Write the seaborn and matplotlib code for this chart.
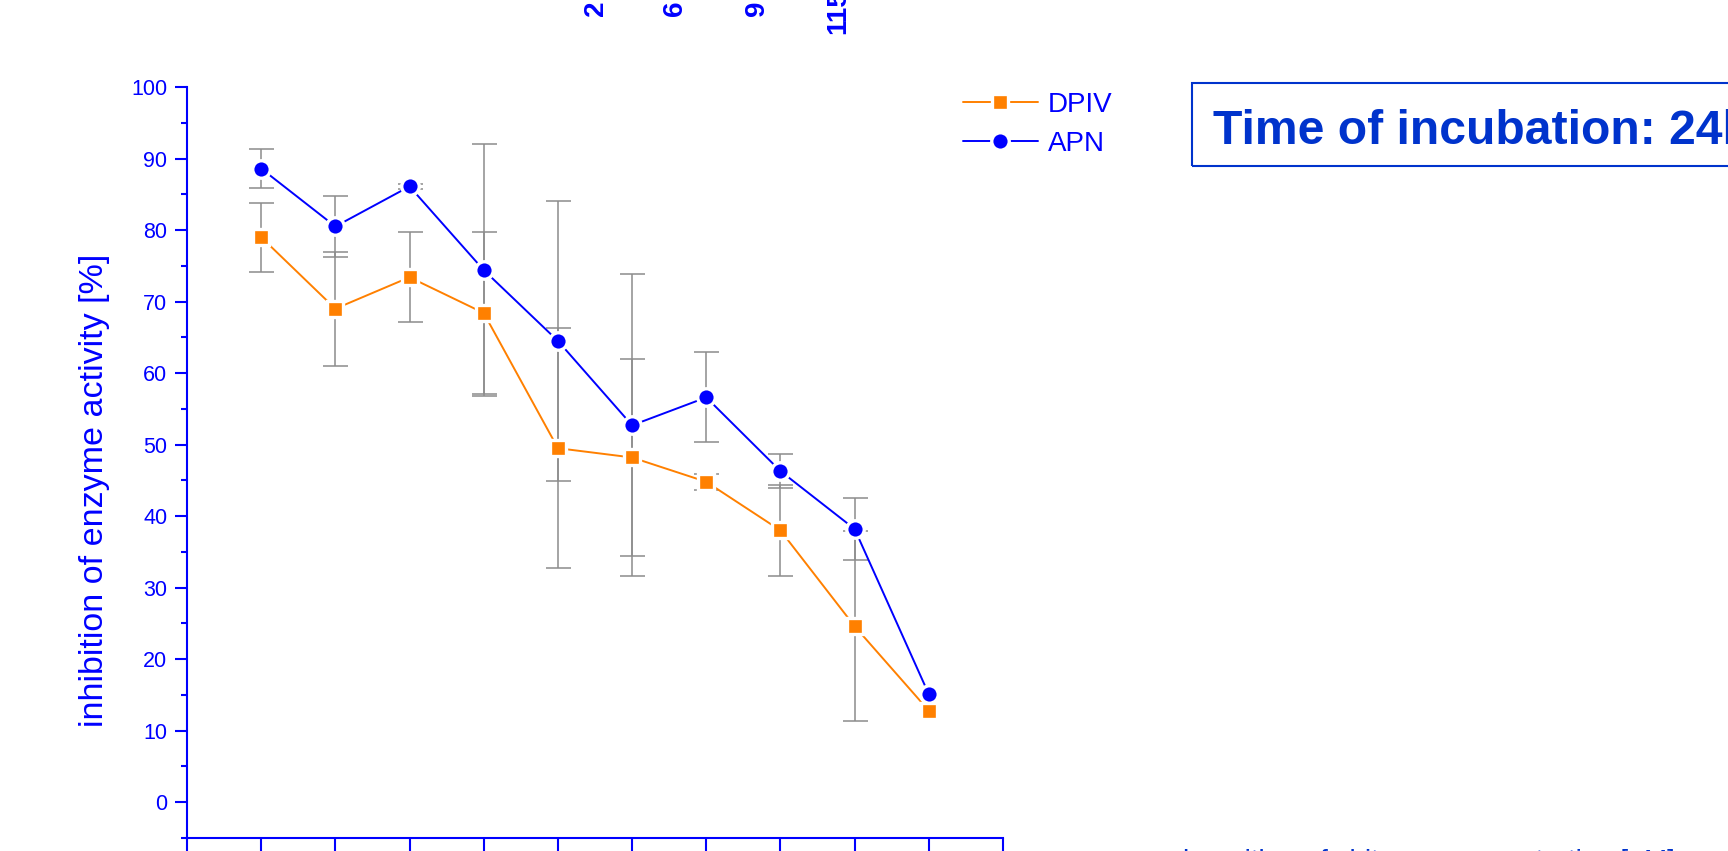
import matplotlib
matplotlib.use("Agg")
import matplotlib.pyplot as plt
import numpy as np
import pandas as pd
import seaborn as sns
from matplotlib.patches import Rectangle
from matplotlib.lines import Line2D

# ---- data ----
positions = [1, 2, 3, 4, 5, 6, 7, 8, 9, 10]
dpiv = [79.0, 69.0, 73.4, 68.4, 49.5, 48.2, 44.8, 38.0, 24.6, 12.8]
dpiv_err = [4.8, 8.0, 6.3, 11.3, 16.8, 13.8, 1.15, 6.3, 13.3, 0.0]
apn = [88.6, 80.5, 86.1, 74.4, 64.5, 52.7, 56.6, 46.3, 38.2, 15.1]
apn_err = [2.75, 4.3, 0.3, 17.6, 19.6, 21.1, 6.3, 2.4, 4.3, 0.0]
series_names = ["DPIV", "APN"]
y_ticks = list(range(0, 101, 10))
top_labels = ["2", "6", "9", "115"]
y_label = "inhibition of enzyme activity [%]"
x_label = "logarithm of chitosan concentration [µM]"
box_text = "Time of incubation: 24h"

BLUE = "#0000FF"
DARKBLUE = "#0033CC"
ORANGE = "#FF8000"
GREY = "#8c8c8c"

sns.set_theme(style="white")
plt.rcParams["font.family"] = ["Liberation Sans", "DejaVu Sans"]

W, H = 1728, 851
fig = plt.figure(figsize=(W / 100, H / 100), dpi=100)
ax = fig.add_axes([187 / W, 1 - 838 / H, (1003 - 187) / W, (838 - 87) / H])

df = pd.DataFrame({
    "x": positions * 2,
    "value": dpiv + apn,
    "err": dpiv_err + apn_err,
    "series": [series_names[0]] * len(positions) + [series_names[1]] * len(positions),
})

# error bars
for name in series_names:
    sub = df[(df["series"] == name) & (df["err"] > 0)]
    ax.errorbar(sub["x"], sub["value"], yerr=sub["err"], fmt="none",
                ecolor=GREY, elinewidth=1.1, capsize=9, capthick=1.1, zorder=1)

styles = {
    "DPIV": dict(color=ORANGE, marker="s", ms=11.2),
    "APN": dict(color=BLUE, marker="o", ms=12.6),
}
for name in series_names:
    st = styles[name]
    sns.lineplot(data=df[df["series"] == name], x="x", y="value", ax=ax,
                 color=st["color"], marker=st["marker"], markersize=st["ms"],
                 markeredgecolor="white", markeredgewidth=2.4, linewidth=1.4,
                 legend=False, zorder=3, errorbar=None)

ax.set_xlim(0, 11)
ax.set_ylim(-5, 100)
ax.set_xticks(range(0, 12))
ax.set_yticks(y_ticks)
ax.set_yticks(list(range(-5, 100, 10)), minor=True)
ax.set_xlabel("")
ax.set_ylabel(y_label, fontsize=24.5, color=BLUE)
ax.yaxis.set_label_coords(-0.094, 0.4627)

for s in ["top", "right"]:
    ax.spines[s].set_visible(False)
for s in ["left", "bottom"]:
    ax.spines[s].set_color(BLUE)
    ax.spines[s].set_linewidth(1.5)

ax.tick_params(axis="y", which="major", direction="out", length=8.6, width=1.5,
               color=BLUE, labelcolor=BLUE, labelsize=15.5, pad=5.5, left=True)
ax.tick_params(axis="y", which="minor", direction="out", length=4.3, width=1.5,
               color=BLUE, left=True)
ax.tick_params(axis="x", which="major", direction="out", length=11, width=1.5,
               color=BLUE, labelbottom=False, bottom=True)
ax.grid(False)

# legend
handles = [
    Line2D([], [], color=ORANGE, marker="s", markersize=11.2, markeredgecolor="white",
           markeredgewidth=2.4, linewidth=1.4),
    Line2D([], [], color=BLUE, marker="o", markersize=12.6, markeredgecolor="white",
           markeredgewidth=2.4, linewidth=1.4),
]
fig.legend(handles, series_names, loc="upper left",
           bbox_to_anchor=(963 / W, 1 - 92 / H), bbox_transform=fig.transFigure,
           frameon=False, borderpad=0, borderaxespad=0, handlelength=2.7,
           handletextpad=0.36, labelspacing=0.46, fontsize=20, labelcolor=BLUE)

# incubation box (runs off the right edge like the reference)
fig.add_artist(Rectangle((1192 / W, 1 - 166 / H), (1780 - 1192) / W, (166 - 83) / H,
                         transform=fig.transFigure, fill=False, edgecolor=DARKBLUE,
                         linewidth=1.5, clip_on=False))
fig.text(1213 / W, 1 - 144 / H, box_text, fontsize=34.7, fontweight="bold",
         color=DARKBLUE, ha="left", va="baseline")

# clipped rotated labels at the top
for lbl, xp, yb in zip(top_labels, [596, 675, 757, 838], [16, 16, 16, 34]):
    fig.text(xp / W, 1 - yb / H, lbl, rotation=90, ha="center", va="bottom",
             fontsize=20, fontweight="bold", color=BLUE)

# x-axis title, mostly below the visible area
fig.text(1183 / W, 1 - 849 / H, x_label, fontsize=20, color=DARKBLUE,
         ha="left", va="top")

fig.savefig("out.png", dpi=100)
